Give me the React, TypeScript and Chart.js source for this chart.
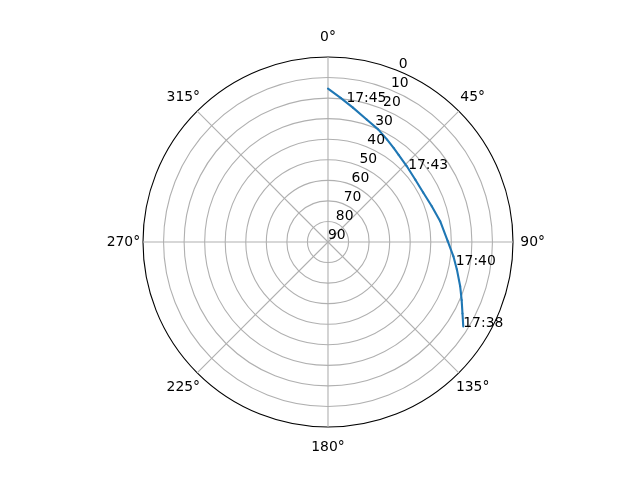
import { useEffect, useRef } from "react"
import Chart from "chart.js/auto"

// pass track in time order: azimuth (deg, clockwise from north) and elevation (deg)
const trackAz = [121.9, 117.8, 113.3, 108.5, 102.1, 96.5, 89.5, 79.5, 71.0, 62.7, 54.4, 46.1, 38.8, 34.8, 29.8, 24.1, 17.5, 10.7, 4.8, 0]
const trackEl = [12.4, 15.9, 19.1, 22.2, 25.9, 28.6, 31.8, 34.5, 36.6, 37.8, 37.8, 36.8, 35.4, 34.2, 32.5, 30.0, 27.5, 23.5, 19.6, 15.4]

// time stamps written next to the track
const timeLabels = ["17:38", "17:40", "17:43", "17:45"]
const timeAz = [121.9, 100.0, 47.5, 7.6]
const timeEl = [12.4, 26.9, 37.1, 21.5]

// angular tick labels
const azTicks = [0, 45, 90, 135, 180, 225, 270, 315]
const rLabelAz = 22.5

const STEPS = 2 // spokes per degree
const N_SPOKES = 360 * STEPS
const spokes = Array.from({ length: N_SPOKES }, (_, i) => String(i / STEPS))
const idx = (az: number) => Math.round(az * STEPS) % N_SPOKES

const FONT = '13.9px "DejaVu Sans"'
const BLUE = "#1f77b4"
const GRID = "#b0b0b0"

const textPlugin = {
  id: "polarText",
  afterDatasetsDraw(chart: any) {
    const s = chart.scales.r
    const ctx = chart.ctx
    ctx.save()
    ctx.font = FONT
    ctx.fillStyle = "#000"
    ctx.textBaseline = "alphabetic"

    // radial ticks along 22.5°
    ctx.textAlign = "left"
    s.ticks.forEach((t: any) => {
      const p = s.getPointPositionForValue(idx(rLabelAz), t.value)
      ctx.fillText(t.label, p.x, p.y - 3.3)
    })

    // angle labels
    ctx.textAlign = "center"
    azTicks.forEach((a) => {
      const p = s.getPointPosition(idx(a), s.drawingArea + 19.6)
      ctx.fillText(a + "°", p.x, p.y + 4)
    })

    // time stamps
    ctx.textAlign = "left"
    timeLabels.forEach((txt, i) => {
      const p = s.getPointPositionForValue(idx(timeAz[i]), timeEl[i])
      ctx.fillText(txt, p.x, p.y)
    })
    ctx.restore()
  },
}

export default function App() {
  const canvasRef = useRef<HTMLCanvasElement | null>(null)

  useEffect(() => {
    if (!canvasRef.current) return

    // one radar dataset per track segment (a radar line always closes on itself)
    const datasets = trackAz.slice(1).map((_, i) => {
      const data: (number | null)[] = new Array(N_SPOKES).fill(null)
      data[idx(trackAz[i])] = trackEl[i]
      data[idx(trackAz[i + 1])] = trackEl[i + 1]
      return {
        data,
        borderColor: BLUE,
        borderWidth: 2.1,
        borderJoinStyle: "round" as const,
        pointRadius: 0,
        fill: false,
        spanGaps: true,
      }
    })

    const chart = new Chart(canvasRef.current, {
      type: "radar",
      data: { labels: spokes, datasets },
      options: {
        responsive: false,
        animation: false,
        events: [],
        layout: { padding: { left: 88, right: 72, top: 57, bottom: 53 } },
        plugins: { legend: { display: false }, tooltip: { enabled: false } },
        scales: {
          r: {
            min: 0,
            max: 90,
            reverse: true,
            ticks: { display: false, stepSize: 10 },
            pointLabels: { display: false },
            grid: {
              circular: true,
              lineWidth: 1.1,
              color: (c: any) => (c.tick && c.tick.value === 0 ? "#000" : GRID),
            },
            angleLines: {
              display: true,
              color: GRID,
              lineWidth: (c: any) => (c.index % (45 * STEPS) === 0 ? 1.1 : 0),
            },
          },
        },
      },
      plugins: [textPlugin],
    })

    return () => chart.destroy()
  }, [])

  return (
    <>
      <style>{`body { margin: 0; background: #fff; }`}</style>
      <div style={{ width: 640, height: 480 }}>
        <canvas ref={canvasRef} width={640} height={480} />
      </div>
    </>
  )
}
